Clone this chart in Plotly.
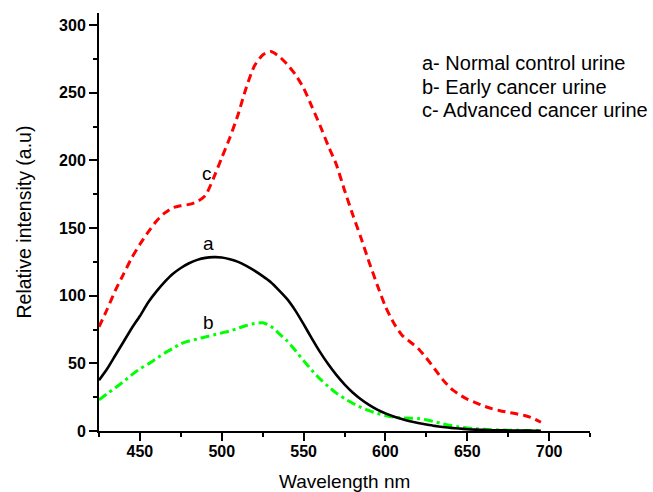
import plotly.graph_objects as go

wavelength = list(range(425, 700, 5))

normal_control = [37.5, 46, 56, 66, 76, 85, 95, 103, 110, 116, 120.5, 124, 126.5, 128, 128.5,
                  128.3, 127, 125, 122, 118.5, 114.5, 110, 104, 97.5, 89, 79, 68.5, 58.5, 49.5,
                  41.5, 34.5, 28.5, 23.5, 19.3, 15.8, 13, 10.7, 8.8, 7.2, 5.9, 4.8, 3.8, 3.0, 2.3,
                  1.8, 1.3, 1.0, 0.8, 0.6, 0.5, 0.4, 0.3, 0.3, 0.2, 0.2]

early_cancer = [23, 27.5, 32, 36.5, 41.5, 46, 49.5, 53.5, 57.5, 61, 64.5, 66.5, 68, 69.5, 71,
                72.5, 74, 76, 78, 79.5, 80, 77.5, 72, 66.5, 59.5, 52, 45, 38.5, 33,
                28, 24, 20.5, 17.5, 15, 13, 11.5, 10.3, 9.7, 9.5, 9.2, 8.3, 6.8, 5.3, 4.0,
                3.0, 2.2, 1.7, 1.3, 1.0, 0.8, 0.6, 0.5, 0.4, 0.3, 0.3]

advanced_cancer = [77, 90, 104, 116, 128, 138, 147, 155, 161, 165, 166.5, 167.5, 169.5, 174, 187,
                   202, 217, 234, 254, 270, 278, 280.5, 277, 271, 263.5, 253.5, 240, 226, 211,
                   197, 178, 160, 143, 125, 108, 92, 80, 71, 66, 61, 54, 46, 38, 31.5,
                   27, 23.5, 21, 18.5, 16.5, 15, 13.8, 12.7, 11.5, 9.5, 6.5]

legend_lines = ["a- Normal control urine", "b- Early cancer urine", "c- Advanced cancer urine"]
curve_labels = [("a", 492.0, 138.5), ("b", 492.0, 80), ("c", 491.0, 190)]

FONT = "Liberation Sans, Arial, sans-serif"

fig = go.Figure()
fig.add_trace(go.Scatter(x=wavelength, y=early_cancer, mode="lines",
                         line=dict(color="#00ff00", width=3, dash="9px,4px,3px,4px", shape="spline", smoothing=0.6)))
fig.add_trace(go.Scatter(x=wavelength, y=normal_control, mode="lines",
                         line=dict(color="black", width=2.6, shape="spline", smoothing=0.6)))
fig.add_trace(go.Scatter(x=wavelength, y=advanced_cancer, mode="lines",
                         line=dict(color="#ff0000", width=3, dash="8px,5px", shape="spline", smoothing=0.6)))

W, H = 653, 492
L, R, T, B = 99, 63, 13, 61
pw, ph = W - L - R, H - T - B

axis_common = dict(showgrid=False, zeroline=False, showline=True, linecolor="black", linewidth=2,
                   ticks="outside", ticklen=8, tickwidth=1.5, tickcolor="black",
                   tickfont=dict(family=FONT, size=16, color="black", weight="bold"),
                   mirror=False)

fig.update_xaxes(range=[425, 725], dtick=50, tick0=0, ticklabelstandoff=-3,
                 minor=dict(dtick=25, tick0=0, ticklen=4, ticks="outside", tickcolor="black", tickwidth=1.5),
                 **axis_common)
fig.update_yaxes(range=[0, 309], dtick=50, tick0=0,
                 minor=dict(dtick=25, tick0=0, ticklen=4, ticks="outside", tickcolor="black", tickwidth=1.5),
                 **axis_common)

annotations = []
for txt, x, y in curve_labels:
    annotations.append(dict(x=x, y=y, xref="x", yref="y", text=txt, showarrow=False,
                            font=dict(family=FONT, size=19, color="black")))
legend_y = [63, 86.5, 110]
for txt, yy in zip(legend_lines, legend_y):
    annotations.append(dict(x=(420 - L) / pw, y=(H - B - yy) / ph, xref="paper", yref="paper",
                            text=txt, showarrow=False, xanchor="left", yanchor="middle",
                            font=dict(family=FONT, size=20, color="black")))
annotations.append(dict(x=(23.5 - L) / pw, y=0.5, xref="paper", yref="paper",
                        text="Relative intensity (a.u)", textangle=-90, showarrow=False,
                        xanchor="center", yanchor="middle",
                        font=dict(family=FONT, size=19.5, color="black")))
annotations.append(dict(x=0.5, y=-(482 - (H - B)) / ph, xref="paper", yref="paper",
                        text="Wavelength nm", showarrow=False, xanchor="center", yanchor="middle",
                        font=dict(family=FONT, size=19, color="black")))

fig.update_layout(width=W, height=H, margin=dict(l=L, r=R, t=T, b=B, autoexpand=False),
                  plot_bgcolor="white", paper_bgcolor="white", showlegend=False,
                  annotations=annotations)

fig.write_html("out.html", include_plotlyjs=True, full_html=True,
               config={"displayModeBar": False},
               post_script="document.body.style.margin='0px';document.body.style.overflow='hidden';")
